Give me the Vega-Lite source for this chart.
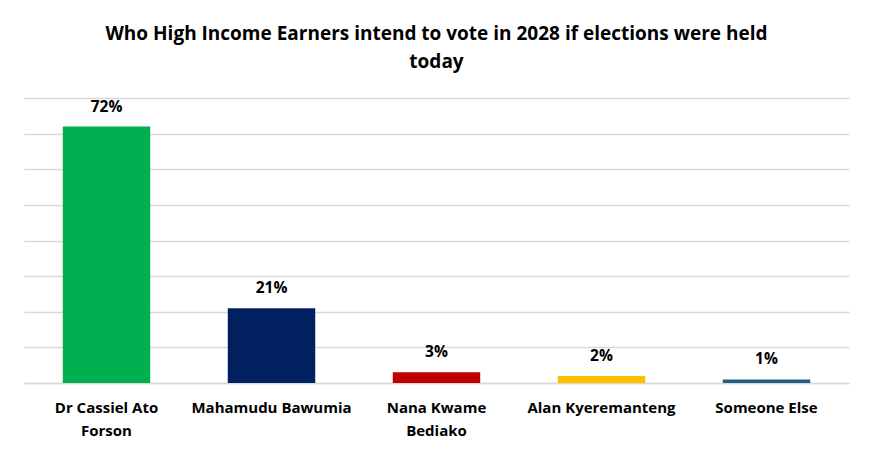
{
  "$schema": "https://vega.github.io/schema/vega-lite/v6.json",
  "autosize": "none",
  "width": 825,
  "height": 285,
  "padding": {"left": 24, "top": 98, "right": 25, "bottom": 73},
  "background": "white",
  "title": {
    "text": ["Who High Income Earners intend to vote in 2028 if elections were held", "today"],
    "font": "Open Sans",
    "fontSize": 19,
    "fontWeight": "bold",
    "color": "#000000",
    "anchor": "middle",
    "lineHeight": 28,
    "offset": 26
  },
  "data": {
    "values": [
      {"candidate": "Dr Cassiel Ato Forson", "share": 0.72, "colour": "green"},
      {"candidate": "Mahamudu Bawumia", "share": 0.21, "colour": "navy"},
      {"candidate": "Nana Kwame Bediako", "share": 0.03, "colour": "red"},
      {"candidate": "Alan Kyeremanteng", "share": 0.02, "colour": "yellow"},
      {"candidate": "Someone Else", "share": 0.01, "colour": "teal"}
    ]
  },
  "encoding": {
    "x": {
      "field": "candidate",
      "type": "nominal",
      "sort": null,
      "scale": {"paddingInner": 0.47, "paddingOuter": 0.235},
      "axis": {
        "title": null,
        "labelAngle": 0,
        "labelFont": "Open Sans",
        "labelFontSize": 15,
        "labelFontWeight": "bold",
        "labelColor": "#000000",
        "labelPadding": 17,
        "labelLineHeight": 23,
        "labelExpr": "datum.value == 'Dr Cassiel Ato Forson' ? ['Dr Cassiel Ato', 'Forson'] : datum.value == 'Nana Kwame Bediako' ? ['Nana Kwame', 'Bediako'] : datum.value",
        "ticks": false,
        "domainColor": "#D9D9D9",
        "domainWidth": 1.5
      }
    },
    "y": {
      "field": "share",
      "type": "quantitative",
      "scale": {"domain": [0, 0.8]},
      "axis": {
        "title": null,
        "labels": false,
        "ticks": false,
        "domain": false,
        "values": [0, 0.1, 0.2, 0.3, 0.4, 0.5, 0.6, 0.7, 0.8],
        "gridColor": "#D9D9D9",
        "gridWidth": 1.5
      }
    }
  },
  "layer": [
    {
      "mark": {"type": "bar"},
      "encoding": {
        "color": {
          "field": "colour",
          "type": "nominal",
          "scale": {
            "domain": ["green", "navy", "red", "yellow", "teal"],
            "range": ["#00B050", "#002060", "#C00000", "#FFC000", "#215F80"]
          },
          "legend": null
        }
      }
    },
    {
      "mark": {
        "type": "text",
        "baseline": "bottom",
        "dy": -12,
        "font": "Open Sans",
        "fontSize": 15.5,
        "fontWeight": "bold",
        "color": "#000000"
      },
      "encoding": {
        "text": {"field": "share", "type": "quantitative", "format": ".0%"}
      }
    }
  ],
  "config": {
    "view": {"stroke": null}
  }
}
